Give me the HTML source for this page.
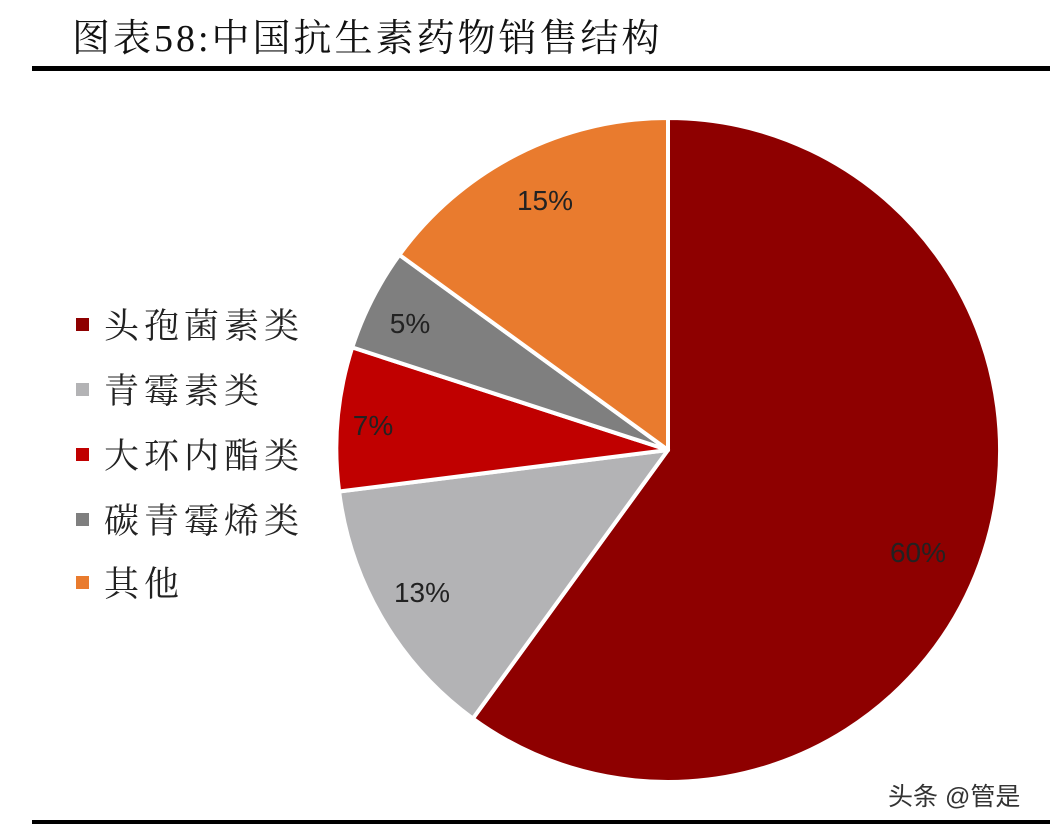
<!DOCTYPE html>
<html><head><meta charset="utf-8"><style>
body{margin:0;background:#fff;}
svg{display:block}
</style></head><body>
<svg width="1050" height="830" viewBox="0 0 1050 830" xmlns="http://www.w3.org/2000/svg">
<rect width="1050" height="830" fill="#fff"/>
<text x="72" y="51" font-family="'Liberation Serif','Noto Serif CJK SC',serif" font-size="38" fill="#111" letter-spacing="3">图表58:中国抗生素药物销售结构</text>
<rect x="32" y="66" width="1018" height="5" fill="#000"/>
<rect x="32" y="820" width="1018" height="4" fill="#000"/>
<g stroke="#fff" stroke-width="4" stroke-linejoin="round">
<path d="M668,450 L668,118 A332,332 0 1 1 472.86,718.59 Z" fill="#8E0000"/>
<path d="M668,450 L472.86,718.59 A332,332 0 0 1 339.14,491.52 Z" fill="#B3B3B5"/>
<path d="M668,450 L339.14,491.52 A332,332 0 0 1 352.25,347.41 Z" fill="#C00000"/>
<path d="M668,450 L352.25,347.41 A332,332 0 0 1 399.41,254.86 Z" fill="#7F7F7F"/>
<path d="M668,450 L399.41,254.86 A332,332 0 0 1 668,118 Z" fill="#E97B2E"/>
</g>
<g font-family="'Liberation Sans',sans-serif" font-size="28" fill="#222" text-anchor="middle">
<text x="545" y="210">15%</text>
<text x="410" y="333">5%</text>
<text x="373" y="435">7%</text>
<text x="422" y="602">13%</text>
<text x="918" y="562">60%</text>
</g>
<g font-family="'Liberation Serif','Noto Serif CJK SC',serif" font-size="35" fill="#222" letter-spacing="5">
<rect x="76" y="318" width="13" height="13" fill="#8E0000"/><text x="104" y="338">头孢菌素类</text>
<rect x="76" y="383" width="13" height="13" fill="#B3B3B5"/><text x="104" y="403">青霉素类</text>
<rect x="76" y="448" width="13" height="13" fill="#C00000"/><text x="104" y="468">大环内酯类</text>
<rect x="76" y="513" width="13" height="13" fill="#7F7F7F"/><text x="104" y="533">碳青霉烯类</text>
<rect x="76" y="576" width="13" height="13" fill="#E97B2E"/><text x="104" y="596">其他</text>
</g>
<text x="888" y="805" font-family="'Liberation Sans','Noto Sans CJK SC',sans-serif" font-size="25" fill="#333">头条 @管是</text>
</svg>
</body></html>
